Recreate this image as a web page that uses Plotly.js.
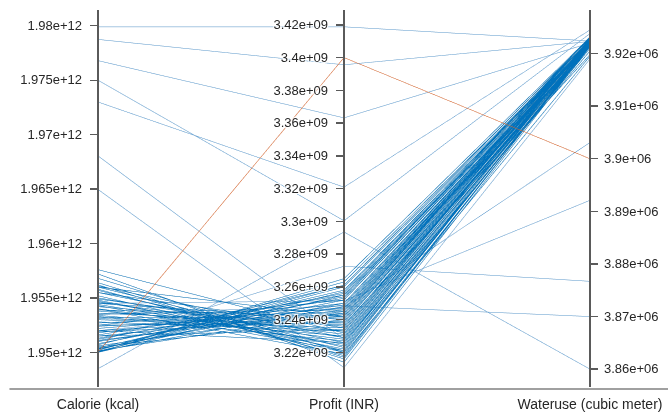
<!DOCTYPE html>
<html>
<head>
<meta charset="utf-8">
<script src="https://cdn.plot.ly/plotly-3.0.1.min.js"></script>
<style>
html,body{margin:0;padding:0;background:#fff;}
#chart{width:668px;height:417px;}
</style>
</head>
<body>
<div id="chart"></div>
<script>
// ---- Data ----
const dimLabels = ['Calorie (kcal)', 'Profit (INR)', 'Wateruse (cubic meter)'];

const calorie = [
  1.97990e12, 1.97875e12, 1.97680e12, 1.97500e12, 1.97300e12, 1.96805e12, 1.96497e12,
  1.94850e12, 1.95100e12, 1.95350e12, 1.95450e12, 1.95200e12,
  1.95000e12, 1.95005e12, 1.95010e12, 1.95020e12, 1.95030e12, 1.95040e12, 1.95060e12,
  1.95080e12, 1.95100e12, 1.95120e12, 1.95150e12, 1.95180e12, 1.95200e12, 1.95220e12,
  1.95250e12, 1.95270e12, 1.95300e12, 1.95320e12, 1.95340e12, 1.95360e12, 1.95380e12,
  1.95400e12, 1.95420e12, 1.95440e12, 1.95460e12, 1.95480e12, 1.95500e12, 1.95520e12,
  1.95550e12, 1.95580e12, 1.95600e12, 1.95620e12, 1.95680e12, 1.95720e12, 1.95760e12,
  1.95350e12, 1.95450e12, 1.95150e12, 1.95050e12, 1.95250e12, 1.95550e12, 1.95400e12,
  1.95200e12, 1.95600e12, 1.95020e12, 1.95130e12, 1.95310e12, 1.95470e12,
  1.95010e12, 1.95035e12, 1.95070e12, 1.95110e12, 1.95160e12, 1.95190e12, 1.95240e12,
  1.95280e12, 1.95330e12, 1.95390e12, 1.95430e12, 1.95490e12, 1.95570e12, 1.95610e12,
  1.95640e12, 1.95000e12, 1.95015e12,
  1.95000e12
];
const profit = [
  3.4188e9, 3.3956e9, 3.3632e9, 3.3004e9, 3.3209e9, 3.2281e9, 3.2107e9,
  3.2935e9, 3.2726e9, 3.2484e9, 3.2515e9, 3.2475e9,
  3.2550e9, 3.2600e9, 3.2480e9, 3.2630e9, 3.2520e9, 3.2580e9, 3.2450e9,
  3.2540e9, 3.2490e9, 3.2560e9, 3.2440e9, 3.2500e9, 3.2420e9, 3.2470e9,
  3.2380e9, 3.2450e9, 3.2350e9, 3.2410e9, 3.2300e9, 3.2380e9, 3.2330e9,
  3.2280e9, 3.2360e9, 3.2250e9, 3.2310e9, 3.2220e9, 3.2290e9, 3.2200e9,
  3.2260e9, 3.2180e9, 3.2230e9, 3.2160e9, 3.2200e9, 3.2140e9, 3.2318e9,
  3.2460e9, 3.2400e9, 3.2340e9, 3.2400e9, 3.2520e9, 3.2350e9, 3.2190e9,
  3.2260e9, 3.2420e9, 3.2610e9, 3.2530e9, 3.2370e9, 3.2240e9,
  3.2570e9, 3.2500e9, 3.2610e9, 3.2460e9, 3.2550e9, 3.2390e9, 3.2430e9,
  3.2330e9, 3.2270e9, 3.2420e9, 3.2210e9, 3.2330e9, 3.2210e9, 3.2290e9,
  3.2170e9, 3.2650e9, 3.2440e9,
  3.4000e9
];
const wateruse = [
  3.92240e6, 3.92230e6, 3.92200e6, 3.92380e6, 3.92450e6, 3.92150e6, 3.91900e6,
  3.86000e6, 3.87670e6, 3.87000e6, 3.89210e6, 3.90310e6,
  3.92220e6, 3.92260e6, 3.92200e6, 3.92280e6, 3.92230e6, 3.92250e6, 3.92190e6,
  3.92240e6, 3.92220e6, 3.92270e6, 3.92210e6, 3.92230e6, 3.92200e6, 3.92240e6,
  3.92180e6, 3.92220e6, 3.92190e6, 3.92250e6, 3.92170e6, 3.92230e6, 3.92200e6,
  3.92160e6, 3.92240e6, 3.92180e6, 3.92210e6, 3.92150e6, 3.92220e6, 3.92170e6,
  3.92200e6, 3.92140e6, 3.92190e6, 3.92160e6, 3.92180e6, 3.92130e6, 3.92210e6,
  3.92260e6, 3.92230e6, 3.92190e6, 3.92210e6, 3.92270e6, 3.92240e6, 3.91950e6,
  3.92050e6, 3.92250e6, 3.92300e6, 3.92320e6, 3.91980e6, 3.92100e6,
  3.92290e6, 3.92210e6, 3.92300e6, 3.92220e6, 3.92260e6, 3.92190e6, 3.92230e6,
  3.92180e6, 3.92160e6, 3.92250e6, 3.92140e6, 3.92210e6, 3.92170e6, 3.92200e6,
  3.92150e6, 3.92310e6, 3.92200e6,
  3.90000e6
];
// line group: 0 = isolated line, 1 = line inside the dense bundle, 2 = highlighted (orange) line
const lineGroup = calorie.map((_, i) => (i === calorie.length - 1 ? 2 : (i < 12 ? 0 : 1)));

const calorieTicks = [1.95e12, 1.955e12, 1.96e12, 1.965e12, 1.97e12, 1.975e12, 1.98e12];
const calorieTickText = ['1.95e+12', '1.955e+12', '1.96e+12', '1.965e+12', '1.97e+12', '1.975e+12', '1.98e+12'];
const profitTicks = [3.22e9, 3.24e9, 3.26e9, 3.28e9, 3.30e9, 3.32e9, 3.34e9, 3.36e9, 3.38e9, 3.40e9, 3.42e9];
const profitTickText = ['3.22e+09', '3.24e+09', '3.26e+09', '3.28e+09', '3.3e+09', '3.32e+09', '3.34e+09', '3.36e+09', '3.38e+09', '3.4e+09', '3.42e+09'];
const waterTicks = [3.86e6, 3.87e6, 3.88e6, 3.89e6, 3.90e6, 3.91e6, 3.92e6];
const waterTickText = ['3.86e+06', '3.87e+06', '3.88e+06', '3.89e+06', '3.9e+06', '3.91e+06', '3.92e+06'];

// ---- Chart ----
const FONT = '"Liberation Sans", Arial, sans-serif';
const ranges = [[1.94682e12, 1.98145e12], [3.19886e9, 3.42906e9], [3.85661e6, 3.92828e6]];
const tickSets = [calorieTicks, profitTicks, waterTicks];

const data = [{
  type: 'parcoords',
  labelside: 'bottom',
  labelfont: {family: FONT, size: 14, color: '#262626'},
  tickfont: {family: FONT, size: 13, color: '#262626'},
  rangefont: {family: FONT, size: 1, color: 'rgba(0,0,0,0)'},
  line: {
    color: lineGroup,
    cmin: 0, cmax: 2,
    colorscale: [[0, 'rgb(100,163,216)'], [0.5, 'rgb(0,114,189)'], [1, 'rgb(222,100,40)']],
    showscale: false
  },
  dimensions: [
    {label: dimLabels[0], values: calorie, range: ranges[0],
     tickvals: calorieTicks, ticktext: calorieTickText},
    {label: dimLabels[1], values: profit, range: ranges[1],
     tickvals: profitTicks, ticktext: profitTickText},
    {label: dimLabels[2], values: wateruse, range: ranges[2],
     tickvals: waterTicks, ticktext: waterTickText}
  ]
}];

const layout = {
  width: 668, height: 417,
  margin: {l: 98, r: 78, t: 8, b: 28},
  paper_bgcolor: '#ffffff',
  plot_bgcolor: '#ffffff',
  font: {family: FONT, size: 13, color: '#262626'},
  shapes: [{
    type: 'line', xref: 'paper', yref: 'paper',
    x0: -0.18, x1: 1.16, y0: 0, y1: 0,
    line: {color: '#a0a0a0', width: 2}
  }]
};

function parseY(el) {
  const t = el.getAttribute('transform') || '';
  const m = t.match(/translate\(\s*[-\d.e]+\s*[ ,]\s*([-\d.e]+)\s*\)/);
  return m ? parseFloat(m[1]) : 0;
}

const gd = document.getElementById('chart');
Plotly.newPlot(gd, data, layout, {displayModeBar: false, staticPlot: true}).then(function () {
  const axes = gd.querySelectorAll('.y-axis');
  axes.forEach(function (ax, i) {
    const isLast = (i === axes.length - 1);
    const ticks = ax.querySelectorAll('.axis .tick');
    const tv = tickSets[i];
    if (ticks.length >= 2) {
      const ya = parseY(ticks[0]), yb = parseY(ticks[ticks.length - 1]);
      const va = tv[0], vb = tv[tv.length - 1];
      const toY = v => ya + (v - va) * (yb - ya) / (vb - va);
      const y0 = toY(ranges[i][1]), y1 = toY(ranges[i][0]);
      ax.querySelectorAll('.axis .domain').forEach(function (p) {
        p.setAttribute('d', 'M0,' + y0 + 'V' + y1);
      });
    }
    ax.querySelectorAll('.domain, .tick line').forEach(function (el) {
      el.setAttribute('stroke', '#5a5a5a');
      el.setAttribute('stroke-opacity', '1');
      el.style.stroke = '#5a5a5a';
      el.style.strokeOpacity = '1';
      el.style.strokeWidth = '1.4px';
    });
    ax.querySelectorAll('.tick line').forEach(function (el) { el.setAttribute('x2', isLast ? '8' : '-8'); });
    ax.querySelectorAll('.tick text').forEach(function (el) {
      if (isLast) {
        el.setAttribute('x', '14');
        el.style.textAnchor = 'start';
        el.setAttribute('text-anchor', 'start');
      } else {
        el.setAttribute('x', '-16');
      }
    });
    ax.querySelectorAll('.axis-title').forEach(function (el) {
      el.setAttribute('transform', 'translate(0,-8) ' + (el.getAttribute('transform') || ''));
    });
  });
});
</script>
</body>
</html>
